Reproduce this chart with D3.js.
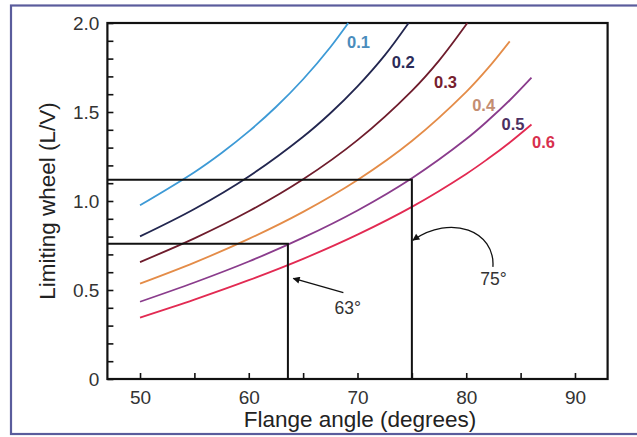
<!DOCTYPE html>
<html>
<head>
<meta charset="utf-8">
<script src="https://cdn.jsdelivr.net/npm/d3@7"></script>
<style>
  body { margin: 0; background: #fff; }
  text { font-family: 'Liberation Sans', Arial, sans-serif; }
</style>
</head>
<body>
<script>
// friction coefficients, one curve each
const mus = ['0.1', '0.2', '0.3', '0.4', '0.5', '0.6']
const lineColors = ['#3d9ad6', '#22264f', '#6e1c2c', '#e48c48', '#8a3c8c', '#e22a52']
const labelColors = ['#4a8cbc', '#2c2c58', '#76202e', '#c48e72', '#4c3062', '#d8304e']

// flange angle (deg) vs limiting L/V
const curve01 = [[50, 0.976], [55, 1.162], [57.5, 1.27], [60, 1.391], [62.5, 1.528], [65, 1.684], [67.5, 1.864], [69.15, 2.0]]
const curve02 = [[50, 0.801], [55, 0.955], [60, 1.138], [65, 1.361], [67.5, 1.493], [70, 1.644], [72.5, 1.818], [74.7, 2.0]]
const curve03 = [[50, 0.657], [55, 0.79], [60, 0.942], [65, 1.122], [70, 1.342], [75, 1.619], [77.5, 1.789], [80.1, 2.0]]
const curve04 = [[50, 0.536], [55, 0.654], [60, 0.787], [65, 0.939], [70, 1.118], [75, 1.337], [80, 1.613], [82, 1.746], [84, 1.897]]
const curve05 = [[50, 0.434], [55, 0.542], [60, 0.66], [65, 0.794], [70, 0.947], [75, 1.128], [80, 1.348], [82, 1.452], [84, 1.566], [86, 1.693]]
const curve06 = [[50, 0.345], [55, 0.446], [60, 0.555], [65, 0.675], [70, 0.811], [75, 0.967], [80, 1.152], [82, 1.237], [84, 1.329], [86, 1.43]]
const curves = [curve01, curve02, curve03, curve04, curve05, curve06]

// where the curve labels sit (angle, L/V)
const labelPos = [[70.1, 1.89], [74.2, 1.78], [78.1, 1.67], [81.6, 1.54], [84.3, 1.43], [87.1, 1.33]]

// the two worked examples: flange angle and its L/V limit
const examples = [[63.6, 0.76], [75, 1.12]]

const xTicks = [50, 55, 60, 65, 70, 75, 80, 85, 90]
const yTicks = d3.range(0, 21).map(d => d / 10)

const W = 637
const H = 437

const svg = d3.select('body')
  .append('svg')
  .attr('width', W)
  .attr('height', H)

// outer blue frame (runs off the right edge in the source)
svg.append('rect')
  .attr('x', 11)
  .attr('y', 5.5)
  .attr('width', 640)
  .attr('height', 428.5)
  .style('fill', '#fff')
  .style('stroke', '#5a5c9c')
  .style('stroke-width', 2.2)

const x = d3.scaleLinear().domain([47, 93]).range([107.4, 607.6])
const y = d3.scaleLinear().domain([0, 2]).range([379, 23])

// axes, ticks pointing in
const xAxis = d3.axisBottom(x)
  .tickValues(xTicks)
  .tickSizeInner(-6)
  .tickSizeOuter(0)
  .tickPadding(12)
  .tickFormat(d => d % 10 === 0 ? d : '')

const yAxis = d3.axisLeft(y)
  .tickValues(yTicks)
  .tickSizeInner(-6)
  .tickSizeOuter(0)
  .tickPadding(8)
  .tickFormat(d => {
    const r = Math.round(d * 10)
    if (r === 0) return '0'
    return r % 5 === 0 ? d.toFixed(1) : ''
  })

const gx = svg.append('g')
  .attr('transform', `translate(0,${y(0)})`)
  .call(xAxis)
const gy = svg.append('g')
  .attr('transform', `translate(${x(47)},0)`)
  .call(yAxis)

for (const g of [gx, gy]) {
  g.select('.domain').remove()
  g.selectAll('line').style('stroke', '#111').style('stroke-width', 1.6)
  g.selectAll('text')
    .style('font-size', '19px')
    .style('fill', '#333')
}

// plot frame
svg.append('rect')
  .attr('x', x(47))
  .attr('y', y(2))
  .attr('width', x(93) - x(47))
  .attr('height', y(0) - y(2))
  .style('fill', 'none')
  .style('stroke', '#111')
  .style('stroke-width', 2.2)

// curves
const line = d3.line()
  .x(d => x(d[0]))
  .y(d => y(d[1]))
  .curve(d3.curveCatmullRom.alpha(0.5))

svg.selectAll('path.curve')
  .data(curves)
  .enter()
  .append('path')
  .attr('class', 'curve')
  .attr('d', line)
  .style('fill', 'none')
  .style('stroke', (d, i) => lineColors[i])
  .style('stroke-width', 1.8)

svg.selectAll('text.mu')
  .data(mus)
  .enter()
  .append('text')
  .attr('class', 'mu')
  .attr('x', (d, i) => x(labelPos[i][0]))
  .attr('y', (d, i) => y(labelPos[i][1]))
  .attr('dy', '0.35em')
  .attr('text-anchor', 'middle')
  .style('font-size', '16.5px')
  .style('font-weight', 'bold')
  .style('fill', (d, i) => labelColors[i])
  .text(d => d)

// worked example lines
svg.selectAll('path.example')
  .data(examples)
  .enter()
  .append('path')
  .attr('class', 'example')
  .attr('d', d => `M${x(47)},${y(d[1])}H${x(d[0])}V${y(0)}`)
  .style('fill', 'none')
  .style('stroke', '#111')
  .style('stroke-width', 2)

// arrow heads
svg.append('defs')
  .append('marker')
  .attr('id', 'head')
  .attr('viewBox', '0 0 10 10')
  .attr('refX', 9)
  .attr('refY', 5)
  .attr('markerWidth', 9)
  .attr('markerHeight', 7)
  .attr('markerUnits', 'userSpaceOnUse')
  .attr('orient', 'auto')
  .append('path')
  .attr('d', 'M0,0L10,5L0,10Z')
  .style('fill', '#111')

// 63 degree callout
svg.append('line')
  .attr('x1', x(68.7))
  .attr('y1', y(0.485))
  .attr('x2', x(64.1))
  .attr('y2', y(0.565))
  .attr('marker-end', 'url(#head)')
  .style('stroke', '#111')
  .style('stroke-width', 1.3)

svg.append('text')
  .attr('x', x(69.1))
  .attr('y', y(0.40))
  .attr('dy', '0.35em')
  .attr('text-anchor', 'middle')
  .style('font-size', '17.5px')
  .style('fill', '#333')
  .text('63°')

// 75 degree callout, curved
const p = d3.path()
p.moveTo(x(82.45), y(0.63))
p.bezierCurveTo(x(82.7), y(0.83), x(78.6), y(0.93), x(75.1), y(0.78))
svg.append('path')
  .attr('d', p.toString())
  .attr('marker-end', 'url(#head)')
  .style('fill', 'none')
  .style('stroke', '#111')
  .style('stroke-width', 1.3)

svg.append('text')
  .attr('x', x(82.5))
  .attr('y', y(0.56))
  .attr('dy', '0.35em')
  .attr('text-anchor', 'middle')
  .style('font-size', '17.5px')
  .style('fill', '#333')
  .text('75°')

// axis titles
svg.append('text')
  .attr('x', 360)
  .attr('y', 427)
  .attr('text-anchor', 'middle')
  .style('font-size', '22.5px')
  .style('fill', '#222')
  .text('Flange angle (degrees)')

svg.append('text')
  .attr('transform', `translate(55,${(y(0) + y(2)) / 2}) rotate(-90)`)
  .attr('text-anchor', 'middle')
  .style('font-size', '22.5px')
  .style('fill', '#222')
  .text('Limiting wheel (L/V)')
</script>
</body>
</html>
